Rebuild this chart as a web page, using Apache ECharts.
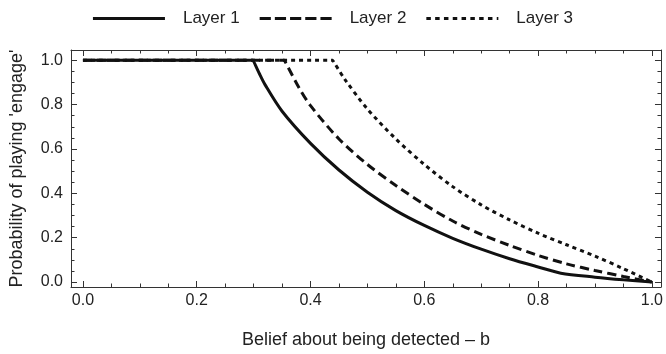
<!DOCTYPE html>
<html>
<head>
<meta charset="utf-8">
<script src="https://cdn.jsdelivr.net/npm/echarts@6/dist/echarts.min.js"></script>
<style>
  html, body { margin: 0; padding: 0; background: #fff; }
  #chart { width: 666px; height: 354px; }
</style>
</head>
<body>
<div id="chart"></div>
<script>
// belief b (x) and probability of 'engage' (y)
const layer1 = [
  [0, 1], [0.299, 1], [0.3, 1], [0.31, 0.94], [0.32, 0.89], [0.35, 0.77], [0.4, 0.625],
  [0.45, 0.505], [0.5, 0.405], [0.55, 0.322], [0.6, 0.255], [0.65, 0.197],
  [0.7, 0.148], [0.75, 0.105], [0.8, 0.068], [0.84, 0.04], [0.9, 0.022],
  [0.95, 0.01], [1, 0]
]
const layer2 = [
  [0, 1], [0.354, 1], [0.355, 1], [0.38, 0.875], [0.4, 0.795], [0.45, 0.645],
  [0.5, 0.53], [0.55, 0.435], [0.6, 0.35], [0.65, 0.275], [0.7, 0.215],
  [0.75, 0.165], [0.8, 0.12], [0.85, 0.082], [0.9, 0.052], [0.95, 0.025], [1, 0]
]
const layer3 = [
  [0, 1], [0.439, 1], [0.44, 1], [0.46, 0.915], [0.5, 0.78], [0.55, 0.645],
  [0.6, 0.53], [0.65, 0.43], [0.7, 0.348], [0.75, 0.28], [0.8, 0.22],
  [0.85, 0.168], [0.9, 0.117], [0.95, 0.06], [1, 0]
]
const seriesNames = ['Layer 1', 'Layer 2', 'Layer 3']

const xMajor = [0, 0.2, 0.4, 0.6, 0.8, 1.0]
const xMinor = [0.05, 0.1, 0.15, 0.25, 0.3, 0.35, 0.45, 0.5, 0.55, 0.65, 0.7, 0.75, 0.85, 0.9, 0.95]
const yMajor = [0, 0.2, 0.4, 0.6, 0.8, 1.0]
const yMinor = [0.05, 0.1, 0.15, 0.25, 0.3, 0.35, 0.45, 0.5, 0.55, 0.65, 0.7, 0.75, 0.85, 0.9, 0.95]

const chart = echarts.init(document.getElementById('chart'))

const font = 'Liberation Sans, Arial, sans-serif'
const textColor = '#222'
const frameColor = '#333'
const xRange = { min: -0.021, max: 1.016 }
const yRange = { min: -0.0224, max: 1.046 }

// legend swatches: a row of little rectangles (dash, gap) across 72px
const swatch = (dash, gap) => {
  let d = ''
  for (let x = 0; x < 72; x += dash + gap) {
    const e = Math.min(x + dash, 72)
    d += `M${x},0H${e}V3H${x}Z`
  }
  return 'path://' + d
}
const legendIcons = [swatch(72, 0), swatch(11.2, 4), swatch(4.5, 4.3)]

const tickAxis = (base, range, ticks, len, showLine) => Object.assign({
  type: 'value',
  min: range.min,
  max: range.max,
  splitLine: { show: false },
  axisLine: { show: showLine, onZero: false, lineStyle: { color: frameColor, width: 1 } },
  axisTick: { show: true, inside: true, length: len, customValues: ticks, lineStyle: { color: frameColor, width: 1 } },
  axisLabel: { show: false }
}, base)

const xAxes = [
  tickAxis({
    position: 'bottom',
    name: 'Belief about being detected \u2013 b',
    nameLocation: 'middle',
    nameGap: 44,
    nameTextStyle: { fontFamily: font, fontSize: 18, color: textColor },
    axisLabel: {
      show: true, customValues: xMajor, margin: 6,
      fontFamily: font, fontSize: 16, color: textColor,
      formatter: v => v.toFixed(1)
    }
  }, xRange, xMajor, 6, true),
  tickAxis({ position: 'bottom' }, xRange, xMinor, 3.5, false),
  tickAxis({ position: 'top' }, xRange, xMajor, 6, true),
  tickAxis({ position: 'top' }, xRange, xMinor, 3.5, false)
]

const yAxes = [
  tickAxis({
    position: 'left',
    name: "Probability of playing 'engage'",
    nameLocation: 'middle',
    nameGap: 45,
    nameTextStyle: { fontFamily: font, fontSize: 18, color: textColor },
    axisLabel: {
      show: true, customValues: yMajor, margin: 8,
      fontFamily: font, fontSize: 16, color: textColor,
      formatter: v => v.toFixed(1)
    }
  }, yRange, yMajor, 6, true),
  tickAxis({ position: 'left' }, yRange, yMinor, 3.5, false),
  tickAxis({ position: 'right' }, yRange, yMajor, 6, true),
  tickAxis({ position: 'right' }, yRange, yMinor, 3.5, false)
]

const dashTypes = ['solid', [9, 5], [4, 4]]
const series = [layer1, layer2, layer3].map((data, i) => ({
  name: seriesNames[i],
  type: 'line',
  xAxisIndex: 0,
  yAxisIndex: 0,
  data: data,
  smooth: 0.3,
  showSymbol: false,
  symbol: 'none',
  lineStyle: { color: '#111', width: 3, type: dashTypes[i] },
  itemStyle: { color: '#111' }
}))

chart.setOption({
  animation: false,
  backgroundColor: '#fff',
  grid: { left: 71, right: 2, top: 50, bottom: 66 },
  legend: {
    top: 5,
    left: 'center',
    itemWidth: 72,
    itemHeight: 3,
    itemGap: 20,
    itemStyle: { color: '#111' },
    textStyle: { fontFamily: font, fontSize: 17, color: textColor, padding: [0, 0, 0, 13] },
    data: seriesNames.map((n, i) => ({ name: n, icon: legendIcons[i] }))
  },
  xAxis: xAxes,
  yAxis: yAxes,
  series
})
</script>
</body>
</html>
